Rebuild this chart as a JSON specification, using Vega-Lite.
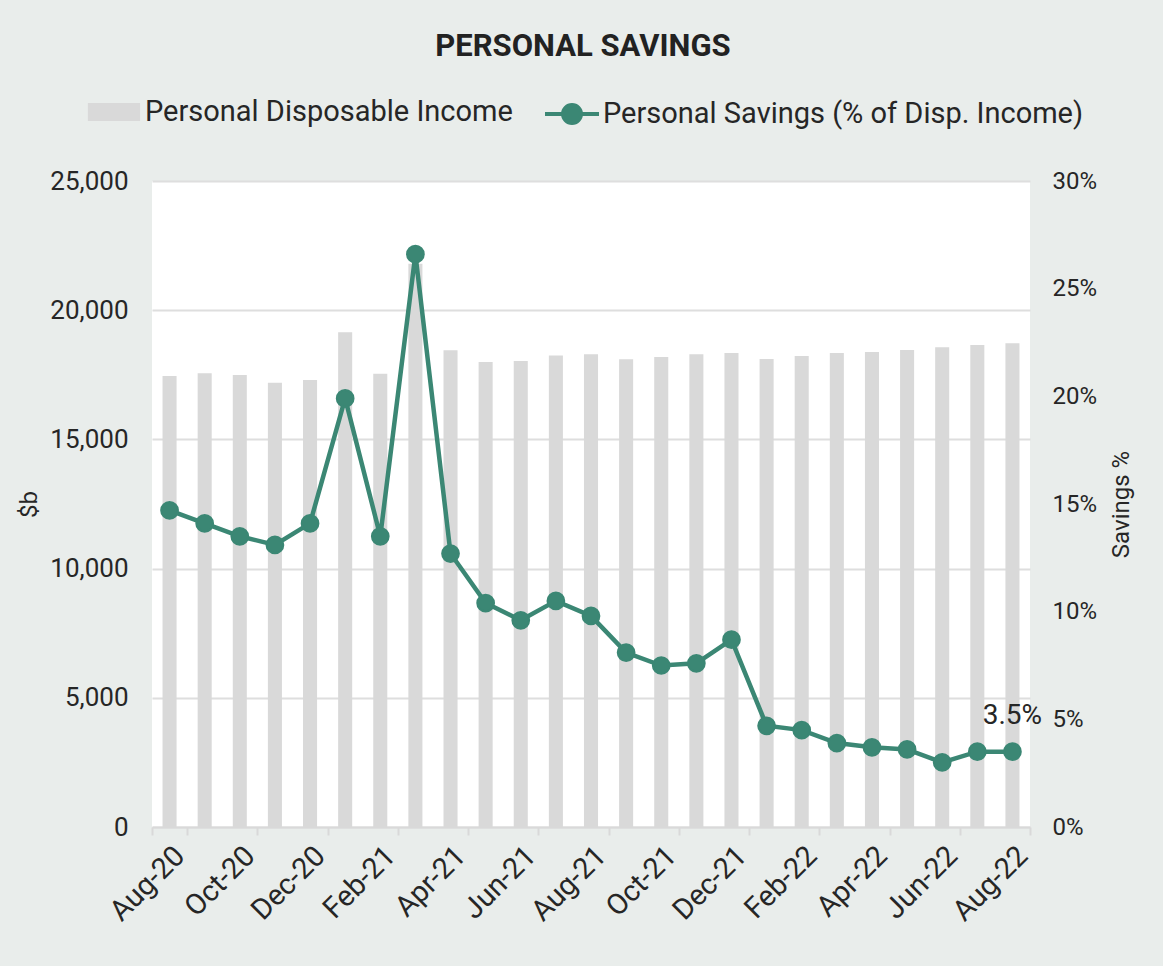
{
  "$schema": "https://vega.github.io/schema/vega-lite/v6.json",
  "width": 878,
  "height": 646,
  "autosize": {"type": "none"},
  "padding": {"left": 152, "top": 181, "right": 133, "bottom": 139},
  "background": "#e9edeb",
  "config": {
    "font": "Roboto",
    "view": {"fill": "white", "stroke": null},
    "axis": {"labelFont": "Roboto", "titleFont": "Roboto", "labelColor": "#262626", "titleColor": "#262626", "labelFontSize": 26, "titleFontSize": 24, "titleFontWeight": "normal"}
  },
  "title": {"text": "PERSONAL SAVINGS", "fontSize": 31, "fontWeight": "bold", "color": "#222222", "anchor": "middle", "offset": 31, "dx": -8},
  "data": {
    "values": [
      {"month": "Aug-20", "income": 17450, "savings": 14.7},
      {"month": "Sep-20", "income": 17560, "savings": 14.1},
      {"month": "Oct-20", "income": 17490, "savings": 13.5},
      {"month": "Nov-20", "income": 17190, "savings": 13.1},
      {"month": "Dec-20", "income": 17300, "savings": 14.1},
      {"month": "Jan-21", "income": 19150, "savings": 19.9},
      {"month": "Feb-21", "income": 17540, "savings": 13.5},
      {"month": "Mar-21", "income": 21800, "savings": 26.6},
      {"month": "Apr-21", "income": 18450, "savings": 12.7},
      {"month": "May-21", "income": 18000, "savings": 10.4},
      {"month": "Jun-21", "income": 18030, "savings": 9.6},
      {"month": "Jul-21", "income": 18250, "savings": 10.5},
      {"month": "Aug-21", "income": 18300, "savings": 9.8},
      {"month": "Sep-21", "income": 18100, "savings": 8.1},
      {"month": "Oct-21", "income": 18190, "savings": 7.5},
      {"month": "Nov-21", "income": 18300, "savings": 7.6},
      {"month": "Dec-21", "income": 18340, "savings": 8.7},
      {"month": "Jan-22", "income": 18110, "savings": 4.7},
      {"month": "Feb-22", "income": 18230, "savings": 4.5},
      {"month": "Mar-22", "income": 18340, "savings": 3.9},
      {"month": "Apr-22", "income": 18380, "savings": 3.7},
      {"month": "May-22", "income": 18460, "savings": 3.6},
      {"month": "Jun-22", "income": 18570, "savings": 3.0},
      {"month": "Jul-22", "income": 18650, "savings": 3.5},
      {"month": "Aug-22", "income": 18720, "savings": 3.5}
    ]
  },
  "encoding": {
    "x": {
      "field": "month",
      "type": "ordinal",
      "sort": null,
      "scale": {"paddingInner": 0, "paddingOuter": 0},
      "axis": {
        "title": null,
        "values": ["Aug-20", "Oct-20", "Dec-20", "Feb-21", "Apr-21", "Jun-21", "Aug-21", "Oct-21", "Dec-21", "Feb-22", "Apr-22", "Jun-22", "Aug-22"],
        "labelAngle": -45,
        "labelFontSize": 29,
        "tickBand": "extent",
        "domainColor": "#d9d9d9",
        "domainWidth": 2,
        "tickColor": "#d9d9d9",
        "tickWidth": 2,
        "tickSize": 8,
        "labelPadding": 6
      }
    }
  },
  "layer": [
    {
      "mark": {"type": "bar", "width": {"band": 0.4}},
      "encoding": {
        "y": {
          "field": "income",
          "type": "quantitative",
          "scale": {"domain": [0, 25000]},
          "axis": {
            "title": "$b",
            "values": [0, 5000, 10000, 15000, 20000, 25000],
            "format": ",.0f",
            "grid": true,
            "gridColor": "#dedede",
            "gridWidth": 2,
            "domain": false,
            "ticks": false,
            "labelPadding": 24,
            "titlePadding": 8
          }
        },
        "fill": {
          "datum": "Personal Disposable Income",
          "type": "nominal",
          "scale": {"range": ["#d9d9d9"]},
          "legend": {
            "title": null,
            "orient": "none",
            "legendX": -56,
            "legendY": -87,
            "labelFontSize": 29,
            "labelLimit": 600,
            "labelColor": "#262626",
            "symbolType": "M-1.45,-0.5H1.45V0.5H-1.45Z",
            "symbolSize": 1296,
            "symbolStrokeWidth": 0,
            "labelOffset": 13
          }
        }
      }
    },
    {
      "layer": [
        {
          "mark": {"type": "line", "strokeWidth": 4.5, "color": "#3b8774", "point": {"filled": true, "size": 280, "color": "#3b8774"}},
          "encoding": {
            "y": {
              "field": "savings",
              "type": "quantitative",
              "scale": {"domain": [0, 30]},
              "axis": {
                "title": "Savings %",
                "titleAngle": 270,
                "orient": "right",
                "values": [0, 5, 10, 15, 20, 25, 30],
                "labelExpr": "datum.value + '%'",
                "labelFontSize": 24,
                "grid": false,
                "domain": false,
                "ticks": false,
                "labelPadding": 22,
                "titlePadding": 37
              }
            },
            "stroke": {
              "datum": "Personal Savings (% of Disp. Income)",
              "type": "nominal",
              "scale": {"range": ["#3b8774"]},
              "legend": {
                "title": null,
                "orient": "none",
                "legendX": 400,
                "legendY": -87,
                "labelFontSize": 29,
                "labelLimit": 600,
                "labelColor": "#262626",
                "symbolType": "M-1.5,0H1.5M0.5,0A0.5,0.5 0 1,1 -0.5,0A0.5,0.5 0 1,1 0.5,0Z",
                "symbolSize": 1296,
                "symbolStrokeWidth": 4,
                "symbolFillColor": "#3b8774",
                "labelOffset": 11
              }
            }
          }
        },
        {
          "transform": [{"filter": "datum.month == 'Aug-22'"}],
          "mark": {"type": "text", "fontSize": 28, "color": "#262626", "dy": -36, "align": "center"},
          "encoding": {
            "y": {"field": "savings", "type": "quantitative", "scale": {"domain": [0, 30]}},
            "text": {"value": "3.5%"}
          }
        }
      ]
    }
  ],
  "resolve": {"scale": {"y": "independent", "fill": "independent", "stroke": "independent"}}
}
